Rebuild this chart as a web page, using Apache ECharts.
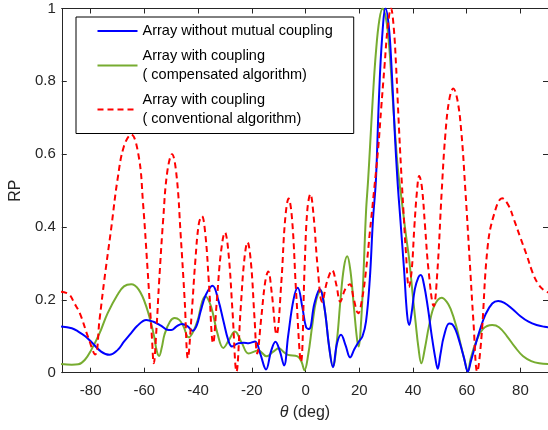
<!DOCTYPE html>
<html>
<head>
<meta charset="utf-8">
<script src="https://cdn.jsdelivr.net/npm/echarts@6/dist/echarts.min.js"></script>
<style>
html,body{margin:0;padding:0;background:#fff;}
#chart{width:548px;height:430px;}
</style>
</head>
<body>
<div id="chart"></div>
<script>
// ---- data ----
const thetaTicks = [-80, -60, -40, -20, 0, 20, 40, 60, 80];
const rpTicks = [0, 0.2, 0.4, 0.6, 0.8, 1];
const seriesNames = [
  'Array without mutual coupling',
  'Array with coupling\n( compensated algorithm)',
  'Array with coupling\n( conventional algorithm)'
];

// [theta (deg), RP]
const noCoupling = [
  [-91, 0.127], [-87, 0.122], [-84.6, 0.113], [-82, 0.1], [-79.8, 0.085], [-76.1, 0.058], [-73, 0.049],
  [-70, 0.062], [-67.6, 0.085], [-65, 0.108], [-62.7, 0.128], [-59.3, 0.145], [-56.6, 0.14],
  [-54, 0.13], [-51.5, 0.118], [-50, 0.117], [-48, 0.127], [-46, 0.134], [-44, 0.128], [-42, 0.115],
  [-40.5, 0.13], [-39, 0.17], [-37.1, 0.214], [-34.6, 0.239], [-32.5, 0.2], [-30.5, 0.14],
  [-28.8, 0.09], [-27.4, 0.072], [-25, 0.081], [-23, 0.082], [-21.2, 0.081], [-18.8, 0.086],
  [-16.9, 0.053], [-14.7, 0.009], [-12.8, 0.06], [-11.2, 0.085], [-9.6, 0.06], [-8.0, 0.02],
  [-6.5, 0.1], [-4.5, 0.2], [-2.9, 0.233], [-1.2, 0.18], [0.2, 0.125], [1.3, 0.12], [3.3, 0.19],
  [5.3, 0.23], [7, 0.18], [8.8, 0.07], [10.2, 0.015], [11.7, 0.08], [13.2, 0.104], [14.9, 0.075],
  [16.6, 0.042], [18.2, 0.065], [19.8, 0.085], [21.2, 0.1], [22.5, 0.14], [23.9, 0.255], [25.1, 0.42],
  [26.2, 0.53], [27.3, 0.75], [28.5, 0.92], [29.8, 1.0], [31, 0.95], [32, 0.84], [33.2, 0.66],
  [34.2, 0.53], [35.3, 0.42], [36.7, 0.28], [37.8, 0.16], [38.6, 0.131], [39.5, 0.165],
  [40.7, 0.23], [42, 0.262], [42.9, 0.268], [44, 0.245], [45.5, 0.18], [47, 0.1], [48.3, 0.04],
  [49.2, 0.011], [50.2, 0.05], [51.5, 0.1], [53.5, 0.135], [54.6, 0.133], [56, 0.115],
  [57.5, 0.08], [59, 0.04], [60.4, 0.003], [61.5, 0.03], [63, 0.07], [65, 0.12], [67, 0.16],
  [69.5, 0.19], [71.7, 0.197], [74, 0.192], [77, 0.175], [80, 0.155], [83, 0.14], [86, 0.131],
  [89, 0.126], [90.5, 0.125]
];

const compensated = [
  [-91, 0.024], [-87, 0.022], [-84.6, 0.023], [-82.2, 0.035], [-79.8, 0.062], [-76.7, 0.108],
  [-73.7, 0.163], [-70, 0.214], [-67.6, 0.237], [-64.9, 0.243], [-62.1, 0.228], [-59.3, 0.182],
  [-56.6, 0.108], [-55.4, 0.06], [-54.5, 0.046], [-53.5, 0.07], [-52.5, 0.105], [-50.5, 0.14],
  [-48.7, 0.15], [-47, 0.145], [-45.5, 0.128], [-43.5, 0.097], [-42, 0.11], [-40.1, 0.145],
  [-38.5, 0.195], [-37.3, 0.21], [-35.2, 0.182], [-32.8, 0.108], [-30.6, 0.068], [-28.5, 0.09],
  [-26.3, 0.113], [-23.8, 0.083], [-21.2, 0.053], [-17.6, 0.061], [-14.5, 0.045], [-12, 0.058],
  [-10, 0.067], [-8, 0.056], [-6.5, 0.049], [-3, 0.045], [-1.5, 0.03], [-0.4, 0.007], [1, 0.05],
  [2.5, 0.13], [4, 0.2], [5.6, 0.226], [7.2, 0.17], [8.8, 0.07], [10.2, 0.017], [11.7, 0.09],
  [13, 0.2], [14.3, 0.29], [15.5, 0.32], [16.7, 0.28], [18, 0.18], [19.2, 0.09], [19.8, 0.072],
  [20.6, 0.13], [21.5, 0.26], [22.5, 0.44], [23.3, 0.53], [24, 0.62], [25, 0.75], [26.2, 0.88],
  [27.5, 0.97], [28.7, 1.0], [30, 0.97], [31.2, 0.89], [32.3, 0.77], [33.5, 0.64], [34.5, 0.55],
  [35.5, 0.49], [36.5, 0.43], [37.5, 0.37], [38.6, 0.31], [39.8, 0.22], [41, 0.136], [42, 0.07],
  [43.1, 0.026], [44.5, 0.07], [46, 0.13], [48, 0.185], [50.7, 0.206], [52.5, 0.195], [54, 0.175],
  [56, 0.13], [58, 0.07], [59.5, 0.025], [60.4, 0.003], [61.5, 0.04], [63.5, 0.085], [66, 0.12],
  [69.5, 0.131], [72, 0.125], [75, 0.1], [78, 0.07], [81, 0.045], [84, 0.032], [87, 0.026],
  [90.5, 0.024]
];

const conventional = [
  [-91, 0.222], [-88, 0.215], [-86, 0.19], [-84, 0.163], [-81, 0.099], [-78.3, 0.05],
  [-76.7, 0.145], [-74.9, 0.255], [-72.4, 0.393], [-70, 0.53], [-67.6, 0.622], [-64.9, 0.654],
  [-62.1, 0.594], [-60.5, 0.466], [-58.8, 0.283], [-57.2, 0.099], [-56.5, 0.026], [-55.5, 0.12],
  [-54.5, 0.25], [-53, 0.42], [-51.5, 0.55], [-49.7, 0.6], [-48, 0.54], [-46.5, 0.38], [-45, 0.2],
  [-43.8, 0.04], [-42.5, 0.15], [-41, 0.31], [-39.7, 0.41], [-38.6, 0.43], [-37.3, 0.38], [-36, 0.25],
  [-34.4, 0.081], [-33, 0.2], [-31.5, 0.33], [-30, 0.385], [-28.7, 0.33], [-27.2, 0.17], [-25.7, 0.003],
  [-24.2, 0.17], [-22.8, 0.31], [-21.6, 0.358], [-20.3, 0.3], [-19, 0.15], [-18, 0.053], [-16.5, 0.15],
  [-15, 0.25], [-13.9, 0.278], [-12.6, 0.22], [-10.8, 0.105], [-9, 0.25], [-7.6, 0.42], [-6.3, 0.478],
  [-5, 0.42], [-3.5, 0.22], [-1.7, 0.03], [-0.3, 0.3], [0.7, 0.45], [1.8, 0.49], [3, 0.43], [4.5, 0.29],
  [6.2, 0.195], [8, 0.25], [9.9, 0.281], [11.5, 0.24], [12.9, 0.195], [14.8, 0.23], [16.5, 0.243],
  [18, 0.2], [19.6, 0.163], [21, 0.2], [22.5, 0.28], [23.9, 0.383], [25.5, 0.5], [27, 0.613],
  [28.2, 0.73], [29.4, 0.842], [30.6, 0.95], [31.8, 1.0], [32.8, 0.95], [33.7, 0.842], [34.6, 0.7],
  [35.5, 0.567], [36.4, 0.45], [37.3, 0.338], [38.5, 0.235], [39.5, 0.28], [40.5, 0.4], [41.5, 0.5],
  [42.3, 0.54], [43.3, 0.51], [44.5, 0.4], [45.8, 0.28], [47.7, 0.183], [49, 0.27], [50.7, 0.5],
  [52, 0.65], [53.5, 0.75], [55, 0.78], [56.5, 0.75], [58, 0.66], [59.5, 0.5], [61, 0.32], [62.5, 0.14],
  [63.9, 0.003], [65.4, 0.09], [67.8, 0.347], [70.3, 0.438], [73.2, 0.479], [75.5, 0.46], [77.6, 0.42],
  [80, 0.37], [82.5, 0.319], [84.5, 0.275], [86.4, 0.246], [88.5, 0.228], [90.5, 0.22]
];

// ---- chart ----
const AX = '#262626';
const chart = echarts.init(document.getElementById('chart'), null, {renderer: 'canvas'});
const FONT = '"Liberation Sans", Arial, Helvetica, sans-serif';

const baseX = {
  type: 'value', min: -90.75, max: 90.25,
  splitLine: {show: false},
  axisLine: {show: true, onZero: false, lineStyle: {color: AX, width: 1}},
  axisTick: {show: true, inside: true, length: 5, lineStyle: {color: AX}, customValues: thetaTicks},
};
const baseY = {
  type: 'value', min: 0, max: 1, interval: 0.2,
  splitLine: {show: false},
  axisLine: {show: true, onZero: false, lineStyle: {color: AX, width: 1}},
  axisTick: {show: true, inside: true, length: 5, lineStyle: {color: AX}, customValues: rpTicks},
};

chart.setOption({
  animation: false,
  backgroundColor: '#fff',
  textStyle: {fontFamily: FONT},
  grid: {left: 53, right: 0, top: 8.5, bottom: 57.3, containLabel: false},
  xAxis: [
    Object.assign({}, baseX, {
      position: 'bottom',
      axisLabel: {show: true, color: AX, fontSize: 15, fontFamily: FONT, margin: 11, customValues: thetaTicks},
      name: '{i|θ} (deg)',
      nameLocation: 'middle', nameGap: 32,
      nameTextStyle: {color: AX, fontSize: 16, fontFamily: FONT,
        rich: {i: {fontStyle: 'italic', fontSize: 16, color: AX, fontFamily: FONT}}}
    }),
    Object.assign({}, baseX, {position: 'top', axisLabel: {show: false}})
  ],
  yAxis: [
    Object.assign({}, baseY, {
      position: 'left',
      axisLabel: {show: true, color: AX, fontSize: 15, fontFamily: FONT, margin: 6},
      name: 'RP', nameLocation: 'middle', nameGap: 22,
      nameTextStyle: {color: AX, fontSize: 16, fontFamily: FONT}
    }),
    Object.assign({}, baseY, {position: 'right', axisLabel: {show: false}})
  ],
  legend: {
    orient: 'vertical', left: 76, top: 17,
    data: seriesNames,
    backgroundColor: '#fff', borderColor: '#000', borderWidth: 1, borderRadius: 0,
    padding: [4.5, 21, 5, 20.5],
    itemWidth: 40, itemHeight: 12, itemGap: 6,
    itemStyle: {opacity: 0},
    textStyle: {fontSize: 14.5, color: '#000', fontFamily: FONT, lineHeight: 19},
    selectedMode: false
  },
  series: [
    {name: seriesNames[0], type: 'line', data: noCoupling, showSymbol: false, symbol: 'none',
      smooth: 0.4, lineStyle: {color: '#0000ff', width: 2}, itemStyle: {color: '#0000ff'}, z: 3},
    {name: seriesNames[1], type: 'line', data: compensated, showSymbol: false, symbol: 'none',
      smooth: 0.4, lineStyle: {color: '#77ac30', width: 2}, itemStyle: {color: '#77ac30'}, z: 2},
    {name: seriesNames[2], type: 'line', data: conventional, showSymbol: false, symbol: 'none',
      smooth: 0.4, lineStyle: {color: '#ff0000', width: 2, type: [6, 4]}, itemStyle: {color: '#ff0000'}, z: 4}
  ]
});
</script>
</body>
</html>
